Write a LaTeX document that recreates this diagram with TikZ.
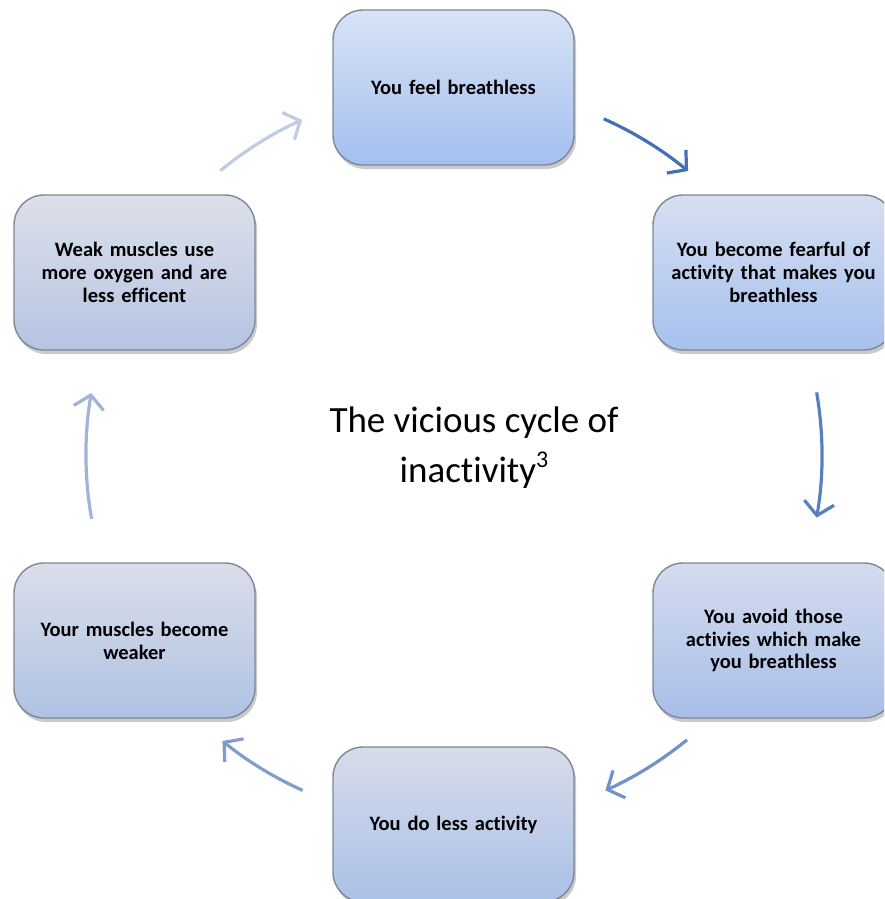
\documentclass[tikz,border=0pt]{standalone}
\usepackage{fontspec}
\setmainfont{Carlito}[Ligatures=NoCommon, BoldFeatures={WordSpace=0.85}]
\usetikzlibrary{shadows,arrows.meta}
\definecolor{bordergray}{RGB}{125,135,150}
\definecolor{aone}{RGB}{68,112,180}
\definecolor{atwo}{RGB}{88,128,192}
\definecolor{athree}{RGB}{112,146,202}
\definecolor{afour}{RGB}{128,157,206}
\definecolor{afive}{RGB}{160,180,216}
\definecolor{asix}{RGB}{192,204,228}
\definecolor{tAt}{RGB}{216,227,246}\definecolor{tAb}{RGB}{164,191,240}
\definecolor{tBt}{RGB}{214,223,241}\definecolor{tBb}{RGB}{166,192,238}
\definecolor{tCt}{RGB}{212,220,238}\definecolor{tCb}{RGB}{168,190,232}
\definecolor{tDt}{RGB}{215,220,234}\definecolor{tDb}{RGB}{170,192,232}
\definecolor{tEt}{RGB}{218,222,233}\definecolor{tEb}{RGB}{176,194,228}
\definecolor{tFt}{RGB}{220,224,234}\definecolor{tFb}{RGB}{182,196,226}
\tikzset{
  box/.style={draw=bordergray, line width=1.4pt, rounded corners=30pt,
    minimum width=241pt, minimum height=155pt, inner sep=0pt,
    align=center, text width=232pt,
    font=\fontsize{20.5}{22.8}\selectfont\bfseries,
    drop shadow={shadow xshift=2pt, shadow yshift=-4pt, opacity=0.35, fill=black!60}},
  arr/.style={line width=3.2pt, -{Straight Barb[length=13pt,width=30pt,line width=3.2pt]}}
}
\begin{document}
\begin{tikzpicture}[x=1pt,y=1pt]
\useasboundingbox (0,0) rectangle (884,-899);
\clip (0,0) rectangle (884,-899);
\coordinate (c) at (454,-455);
\node[box, top color=tAt, bottom color=tAb] (top) at (453.5,-87.5) {You feel breathless};
\node[box, top color=tBt, bottom color=tBb] (rt) at (773.5,-272.5) {You become fearful of\\activity that makes you\\breathless};
\node[box, top color=tCt, bottom color=tCb] (rb) at (773.5,-640.5) {You avoid those\\activies which make\\you breathless};
\node[box, top color=tDt, bottom color=tDb] (bot) at (453.5,-824.5) {You do less activity};
\node[box, top color=tEt, bottom color=tEb] (lb) at (134.5,-640.5) {Your muscles become\\weaker};
\node[box, top color=tFt, bottom color=tFb] (lt) at (134.5,-272.5) {Weak muscles use\\more oxygen and are\\less efficent};
\node[align=center, font=\fontsize{37}{50}\selectfont] (title) at (474,-448) {The vicious cycle of\\inactivity\raisebox{0.42em}{\fontsize{24}{24}\selectfont 3}};
\draw[arr, aone]   ([shift={(66:368)}]c)   arc[start angle=66,   end angle=50.5,  radius=368];
\draw[arr, atwo]   ([shift={(9.8:368)}]c)  arc[start angle=9.8,  end angle=-9.8,  radius=368];
\draw[arr, athree] ([shift={(-50.7:368)}]c) arc[start angle=-50.7, end angle=-65.7, radius=368];
\draw[arr, afour]  ([shift={(-114.3:368)}]c) arc[start angle=-114.3, end angle=-129, radius=368];
\draw[arr, afive]  ([shift={(-170:368)}]c) arc[start angle=-170, end angle=-189.7, radius=368];
\draw[arr, asix]   ([shift={(129.4:368)}]c) arc[start angle=129.4, end angle=114.4, radius=368];
\end{tikzpicture}
\end{document}
